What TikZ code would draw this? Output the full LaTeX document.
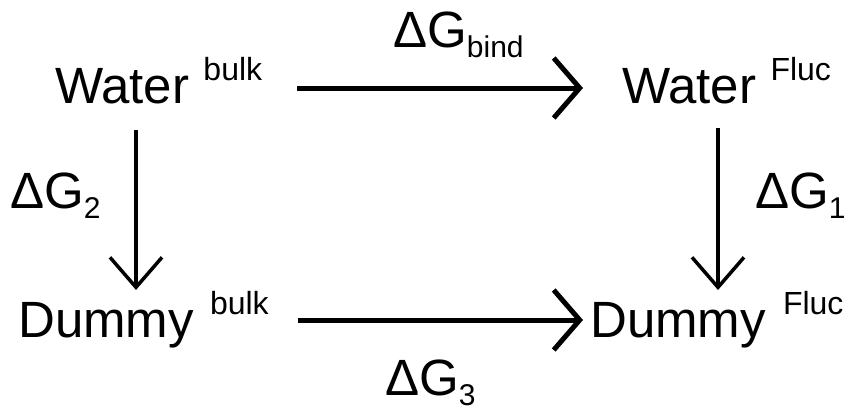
\documentclass[tikz,border=0pt]{standalone}
\usepackage{fontspec}
\setmainfont{Liberation Sans}
\usetikzlibrary{arrows.meta,calc}
\newcommand\mysup[1]{\raisebox{0.45em}{\fontsize{32}{32}\selectfont #1}}
\newcommand\mysub[1]{\raisebox{-0.2em}{\fontsize{30}{30}\selectfont #1}}
\begin{document}
\begin{tikzpicture}[x=1pt,y=-1pt,
  term/.style={inner sep=0pt, anchor=base west, font=\fontsize{51}{60}\selectfont},
  harr/.style={line width=5pt, -{Straight Barb[length=26pt,width=60pt]}},
  varr/.style={line width=3.5pt, -{Straight Barb[length=30pt,width=52pt]}}
]
\useasboundingbox (0,0) rectangle (851,410);
\node[term] (wb) at (55,103) {Water \mysup{bulk}};
\node[term] (wf) at (622,103) {Water \mysup{Fluc}};
\node[term] (db) at (18,337) {Dummy\hspace{2pt} \mysup{bulk}};
\node[term] (df) at (590,337) {Dummy\hspace{3pt} \mysup{Fluc}};
\node[term] (gb) at (393,47) {ΔG\mysub{bind}};
\node[term] (g3) at (385,395) {ΔG\mysub{3}};
\node[term] (g2) at (10,208) {ΔG\mysub{2}};
\node[term] (g1) at (755,208) {ΔG\mysub{1}};
\draw[harr] ($(wb.base east)+(35,-15)$) -- ($(wf.base west)+(-39,-15)$);
\draw[harr] ($(db.base east)+(29,-17)$) -- ($(df.base west)+(-7,-17)$);
\draw[varr] ($(wb.base west)+(81,27)$) -- ($(db.base west)+(118,-47)$);
\draw[varr] ($(wf.base west)+(96,25)$) -- ($(df.base west)+(128,-47)$);
\end{tikzpicture}
\end{document}
